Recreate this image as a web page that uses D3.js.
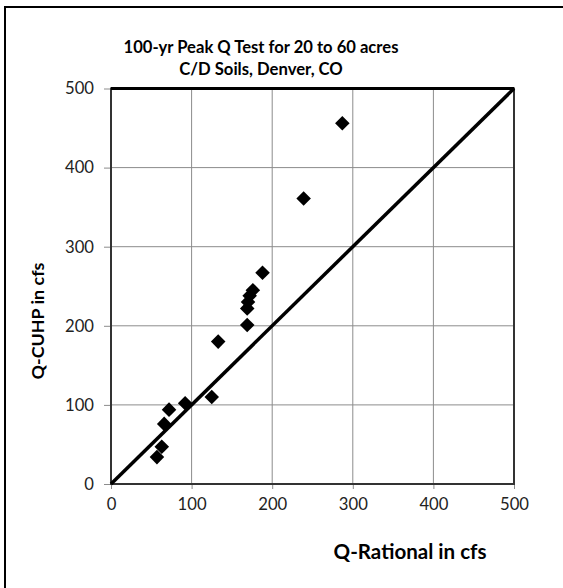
<!DOCTYPE html>
<html><head><meta charset="utf-8">
<script src="https://cdn.jsdelivr.net/npm/d3@7"></script>
<style>body{margin:0;background:#fff;} svg{display:block;}</style>
</head><body>
<svg id="chart" width="563" height="588"></svg>
<script>
const titleLines = ["100-yr Peak Q Test for 20 to 60 acres", "C/D Soils, Denver, CO"];
const xTitle = "Q-Rational in cfs";
const yTitle = "Q-CUHP in cfs";
const xTicks = [0, 100, 200, 300, 400, 500];
const yTicks = [0, 100, 200, 300, 400, 500];
const qRational = [57, 63, 66, 72, 92, 125, 133, 169, 169, 170, 172, 176, 188, 239, 287];
const qCuhp     = [34, 47, 76, 94, 102, 110, 180, 201, 222, 230, 238, 245, 267, 361, 456];
const lineX = [0, 500];
const lineY = [0, 500];

const svg = d3.select("#chart");
const font = "Lato, 'Open Sans', 'Liberation Sans', sans-serif";

// scale a text's font size so that its width matches a target
function fit(sel, target) {
  const fs = parseFloat(sel.attr("font-size"));
  const w = sel.node().getComputedTextLength();
  if (w > 0) sel.attr("font-size", (fs * target / w).toFixed(2));
  return sel;
}

// outer frame (cropped at right/bottom)
svg.append("rect").attr("x", 5).attr("y", 7).attr("width", 600).attr("height", 620)
  .attr("fill", "none").attr("stroke", "#000").attr("stroke-width", 2);

const x = d3.scaleLinear().domain([0, 500]).range([111, 514]);
const y = d3.scaleLinear().domain([0, 500]).range([484, 88.5]);

// gridlines
svg.append("g").selectAll("line").data(xTicks.slice(1, -1)).join("line")
  .attr("x1", d => x(d)).attr("x2", d => x(d)).attr("y1", y(0)).attr("y2", y(500))
  .attr("stroke", "#8c8c8c").attr("stroke-width", 1);
svg.append("g").selectAll("line").data(yTicks.slice(1, -1)).join("line")
  .attr("y1", d => y(d)).attr("y2", d => y(d)).attr("x1", x(0)).attr("x2", x(500))
  .attr("stroke", "#8c8c8c").attr("stroke-width", 1);

// axes
const xAxis = d3.axisBottom(x).tickValues(xTicks).tickSize(5).tickPadding(9);
const yAxis = d3.axisLeft(y).tickValues(yTicks).tickSize(7).tickPadding(10);
const gx = svg.append("g").attr("transform", `translate(0,${y(0)})`).call(xAxis);
const gy = svg.append("g").attr("transform", `translate(${x(0)},0)`).call(yAxis);
[gx, gy].forEach(g => {
  g.select(".domain").remove();
  g.selectAll(".tick line").attr("stroke", "#8c8c8c");
  g.selectAll("text").attr("font-family", font).attr("font-size", 16).attr("fill", "#222");
});
// fit tick label size so "500" is ~29px wide
{
  const t = gx.selectAll("text").filter(d => d === 500);
  const fs = 16 * 29 / t.node().getComputedTextLength();
  gx.selectAll("text").attr("font-size", fs);
  gy.selectAll("text").attr("font-size", fs);
}

// plot border
svg.append("rect").attr("x", x(0)).attr("y", y(500)).attr("width", x(500) - x(0)).attr("height", y(0) - y(500))
  .attr("fill", "none").attr("stroke", "#333").attr("stroke-width", 2);
svg.append("line").attr("x1", x(0)).attr("x2", x(500)).attr("y1", y(500)).attr("y2", y(500))
  .attr("stroke", "#000").attr("stroke-width", 3);

// 1:1 line
svg.append("line").attr("x1", x(lineX[0])).attr("y1", y(lineY[0])).attr("x2", x(lineX[1])).attr("y2", y(lineY[1]))
  .attr("stroke", "#000").attr("stroke-width", 3.5);

// points
const data = qRational.map((d, i) => ({x: d, y: qCuhp[i]}));
svg.append("g").selectAll("path").data(data).join("path")
  .attr("transform", d => `translate(${x(d.x)},${y(d.y)})`)
  .attr("d", d3.symbol().type(d3.symbolDiamond2).size(135))
  .attr("fill", "#000");

// titles
fit(svg.append("text").attr("x", 261).attr("y", 53).attr("text-anchor", "middle")
  .attr("font-family", font).attr("font-weight", "bold").attr("font-size", 15).text(titleLines[0]), 275);
svg.append("text").attr("x", 261).attr("y", 75).attr("text-anchor", "middle")
  .attr("font-family", font).attr("font-weight", "bold").attr("font-size", svg.select("text:last-of-type").attr("font-size")).text(titleLines[1]);
fit(svg.append("text").attr("x", 410).attr("y", 559).attr("text-anchor", "middle")
  .attr("font-family", font).attr("font-weight", "bold").attr("font-size", 16).text(xTitle), 153);
fit(svg.append("text").attr("transform", "translate(44,321) rotate(-90)").attr("text-anchor", "middle")
  .attr("font-family", font).attr("font-weight", "bold").attr("font-size", 16).text(yTitle), 117);
</script>
</body></html>
